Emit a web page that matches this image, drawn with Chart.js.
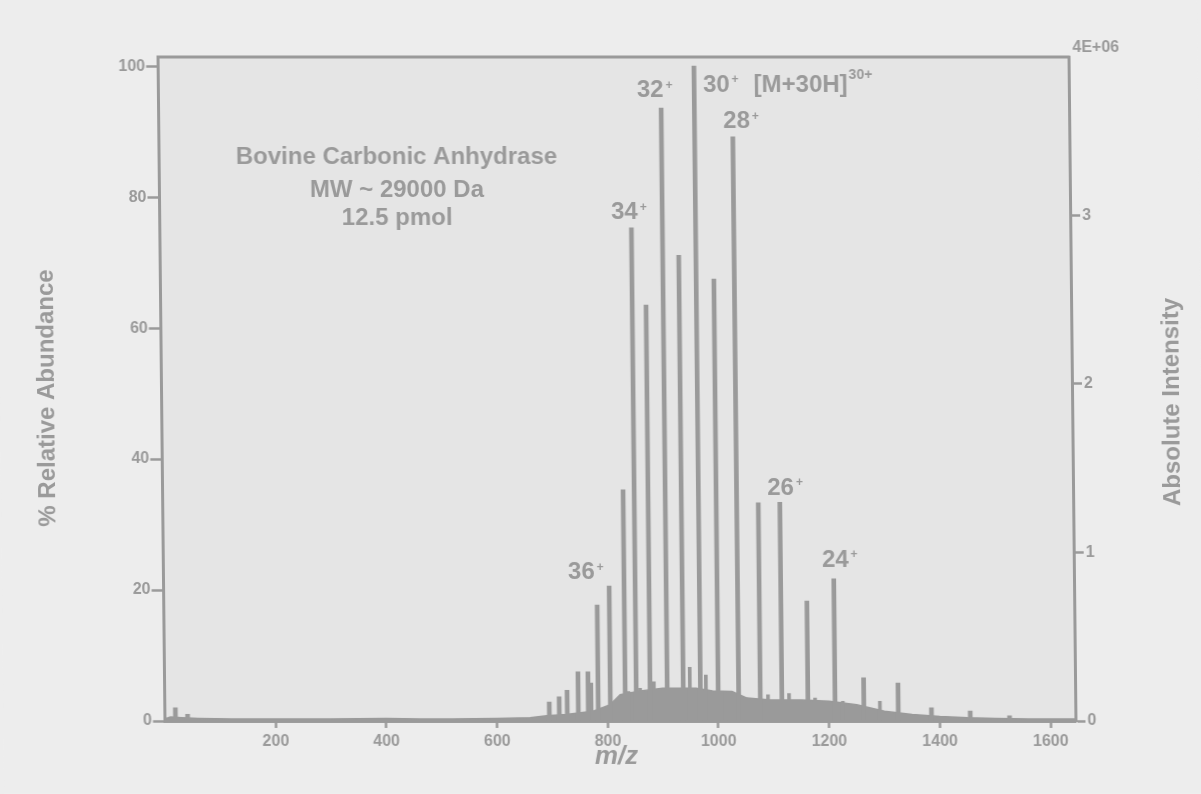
<!DOCTYPE html>
<html>
<head>
<meta charset="utf-8">
<title>Bovine Carbonic Anhydrase ESI mass spectrum</title>
<script src="https://cdn.jsdelivr.net/npm/chart.js@4.4.1/dist/chart.umd.min.js"></script>
<style>
html,body{margin:0;padding:0;background:#ededed;overflow:hidden;}
#wrap{width:1201px;height:794px;}
canvas{display:block;transform:skewX(0.6deg);transform-origin:0 389px;}
</style>
</head>
<body>
<div id="wrap"><canvas id="chart" width="1201" height="794"></canvas></div>
<script>
// ---- tick labels ----
const xTickValues = [200, 400, 600, 800, 1000, 1200, 1400, 1600];
const yTickValues = [0, 20, 40, 60, 80, 100];
const intensityTickValues = [0, 1, 2, 3];
const intensityTopLabel = '4E+06';

// ---- main peaks (m/z, % relative abundance) ----
const peakMz = [19, 41, 694.6, 712.6, 727, 747, 765, 783, 805, 832, 852, 877, 908, 937, 968, 1000, 1037, 1076, 1115, 1162, 1211, 1263, 1325, 1385, 1455, 1526];
const peakAbundance = [2.0, 1.0, 2.9, 3.7, 4.7, 7.5, 7.5, 17.7, 20.6, 35.3, 75.3, 63.5, 93.6, 71.1, 100, 67.5, 89.2, 33.3, 33.4, 18.3, 21.7, 6.6, 5.8, 2.0, 1.5, 0.8];

// ---- minor (adduct / shoulder) peaks ----
const minorMz = [771, 838, 859, 884, 949, 978, 1014, 1050, 1090, 1128, 1175, 1225, 1240, 1292];
const minorAbundance = [5.8, 4.5, 5.0, 6.0, 8.2, 7.0, 4.3, 3.5, 4.0, 4.2, 3.5, 3.0, 2.5, 3.0];

// ---- unresolved envelope / baseline ----
const envelopeMz = [0, 10, 30, 60, 120, 200, 300, 400, 460, 520, 600, 660, 690, 725, 774, 805, 823, 860, 900, 931, 960, 990, 1025, 1052, 1094, 1150, 1200, 1250, 1300, 1350, 1400, 1450, 1500, 1560, 1645];
const envelopeAbundance = [0.3, 0.6, 0.5, 0.4, 0.3, 0.3, 0.3, 0.4, 0.3, 0.3, 0.4, 0.5, 0.8, 1.0, 1.5, 2.5, 4.0, 4.6, 5.0, 5.0, 5.0, 4.6, 4.5, 3.5, 3.2, 3.2, 3.0, 2.5, 1.5, 1.0, 0.7, 0.5, 0.4, 0.3, 0.3];

const ink = '#9a9a9a';
const FONT = '"Liberation Sans", Arial, Helvetica, sans-serif';

const toPoints = (xs, ys) => xs.map((x, i) => ({x: x, y: ys[i]}));

const paperPlugin = {
  id: 'paper',
  beforeDraw(chart) {
    const {ctx, chartArea: a} = chart;
    ctx.save();
    ctx.fillStyle = '#ededed';
    ctx.fillRect(0, 0, chart.width, chart.height);
    ctx.fillStyle = '#e5e5e5';
    ctx.fillRect(a.left, a.top, a.right - a.left, a.bottom - a.top);
    ctx.restore();
  }
};

const textPlugin = {
  id: 'texts',
  afterDraw(chart, args, opts) {
    const {ctx, chartArea: a, scales} = chart;
    const xs = scales.x, ys = scales.y;
    ctx.save();
    // top frame line
    ctx.strokeStyle = ink;
    ctx.lineWidth = 3;
    ctx.beginPath();
    ctx.moveTo(a.left - 1.5, a.top);
    ctx.lineTo(a.right + 1.5, a.top);
    ctx.stroke();

    ctx.fillStyle = ink;
    // axis titles
    ctx.font = 'bold 24px ' + FONT;
    ctx.textAlign = 'center';
    ctx.textBaseline = 'middle';
    ctx.save();
    ctx.translate(a.left - 114, (a.top + a.bottom) / 2 + 9);
    ctx.rotate(-Math.PI / 2);
    ctx.fillText(opts.yTitle, 0, 0);
    ctx.restore();
    ctx.save();
    ctx.translate(a.right + 100, (a.top + a.bottom) / 2 + 13);
    ctx.rotate(-Math.PI / 2);
    ctx.fillText(opts.y2Title, 0, 0);
    ctx.restore();
    ctx.font = 'italic bold 26px ' + FONT;
    ctx.fillText(opts.xTitle, xs.getPixelForValue(opts.xTitleAt), a.bottom + 36);

    // intensity scale label
    ctx.font = 'bold 16px ' + FONT;
    ctx.textAlign = 'left';
    ctx.fillText(intensityTopLabel, a.right + 4, a.top - 9);

    // sample annotation
    ctx.font = 'bold 24px ' + FONT;
    ctx.textAlign = 'center';
    opts.note.forEach(n => {
      ctx.fillText(n.text, xs.getPixelForValue(n.mz), ys.getPixelForValue(n.pct));
    });

    // charge state labels
    ctx.textAlign = 'left';
    opts.charges.forEach(c => {
      let x = xs.getPixelForValue(c.mz);
      const y = ys.getPixelForValue(c.pct);
      ctx.font = 'bold 24px ' + FONT;
      ctx.fillText(c.z, x, y);
      x += ctx.measureText(c.z).width + 2;
      ctx.font = 'bold 12px ' + FONT;
      ctx.fillText('+', x, y - 5);
      if (c.ion) {
        x += ctx.measureText('+').width + 15;
        ctx.font = 'bold 24px ' + FONT;
        ctx.fillText(c.ion, x, y);
        x += ctx.measureText(c.ion).width + 1;
        ctx.font = 'bold 14px ' + FONT;
        ctx.fillText(c.ionCharge, x, y - 10);
      }
    });
    ctx.restore();
  }
};

const tickFont = {family: FONT, size: 16, weight: 'bold'};

new Chart(document.getElementById('chart'), {
  type: 'line',
  data: {
    datasets: [
      {
        type: 'bar',
        label: 'peaks',
        data: toPoints(peakMz, peakAbundance),
        backgroundColor: ink,
        borderWidth: 0,
        barThickness: 4,
        grouped: false,
        yAxisID: 'y'
      },
      {
        type: 'bar',
        label: 'minor peaks',
        data: toPoints(minorMz, minorAbundance),
        backgroundColor: ink,
        borderWidth: 0,
        barThickness: 3,
        grouped: false,
        yAxisID: 'y'
      },
      {
        type: 'line',
        label: 'envelope',
        data: toPoints(envelopeMz, envelopeAbundance),
        borderColor: ink,
        backgroundColor: ink,
        borderWidth: 1.5,
        pointRadius: 0,
        tension: 0,
        fill: 'origin',
        yAxisID: 'y'
      }
    ]
  },
  options: {
    responsive: false,
    animation: false,
    devicePixelRatio: 1,
    layout: {padding: {top: 57, left: 0, right: 0, bottom: 0}},
    plugins: {
      legend: {display: false},
      tooltip: {enabled: false},
      texts: {
        yTitle: '% Relative Abundance',
        y2Title: 'Absolute Intensity',
        xTitle: 'm/z',
        xTitleAt: 815,
        note: [
          {text: 'Bovine Carbonic Anhydrase', mz: 429, pct: 86.1},
          {text: 'MW ~ 29000 Da', mz: 429, pct: 81.1},
          {text: '12.5 pmol', mz: 429, pct: 76.8}
        ],
        charges: [
          {z: '36', mz: 731, pct: 22.7},
          {z: '34', mz: 815.6, pct: 77.7},
          {z: '32', mz: 864.5, pct: 96.3},
          {z: '30', mz: 984, pct: 97.1, ion: '[M+30H]', ionCharge: '30+'},
          {z: '28', mz: 1020, pct: 91.5},
          {z: '26', mz: 1092.5, pct: 35.6},
          {z: '24', mz: 1190, pct: 24.6}
        ]
      }
    },
    scales: {
      x: {
        type: 'linear',
        min: 0,
        max: 1645,
        offset: false,
        position: 'bottom',
        afterBuildTicks: s => { s.ticks = xTickValues.map(v => ({value: v})); },
        afterFit: s => { s.height = 73; },
        grid: {display: true, offset: false, drawOnChartArea: false, drawTicks: true, tickLength: 7, tickWidth: 2.5, tickColor: ink},
        border: {display: true, color: ink, width: 3},
        ticks: {color: ink, font: tickFont, padding: 4, maxRotation: 0, autoSkip: false, callback: v => String(v)}
      },
      y: {
        type: 'linear',
        min: 0,
        max: 101.4,
        position: 'left',
        afterBuildTicks: s => { s.ticks = yTickValues.map(v => ({value: v})); },
        afterFit: s => { s.width = 161.5; },
        grid: {display: true, drawOnChartArea: false, drawTicks: true, tickLength: 12, tickWidth: 2.5, tickColor: ink},
        border: {display: true, color: ink, width: 3},
        ticks: {color: ink, font: tickFont, padding: 1, autoSkip: false, callback: v => String(v)}
      },
      y2: {
        type: 'linear',
        min: 0,
        max: 3.94,
        position: 'right',
        afterBuildTicks: s => { s.ticks = intensityTickValues.map(v => ({value: v})); },
        afterFit: s => { s.width = 1201 - 1072; },
        grid: {display: true, drawOnChartArea: false, drawTicks: true, tickLength: 10, tickWidth: 2.5, tickColor: ink},
        border: {display: true, color: ink, width: 3},
        ticks: {color: ink, font: tickFont, padding: 2, autoSkip: false, callback: v => String(v)}
      }
    }
  },
  plugins: [paperPlugin, textPlugin]
});
</script>
</body>
</html>
